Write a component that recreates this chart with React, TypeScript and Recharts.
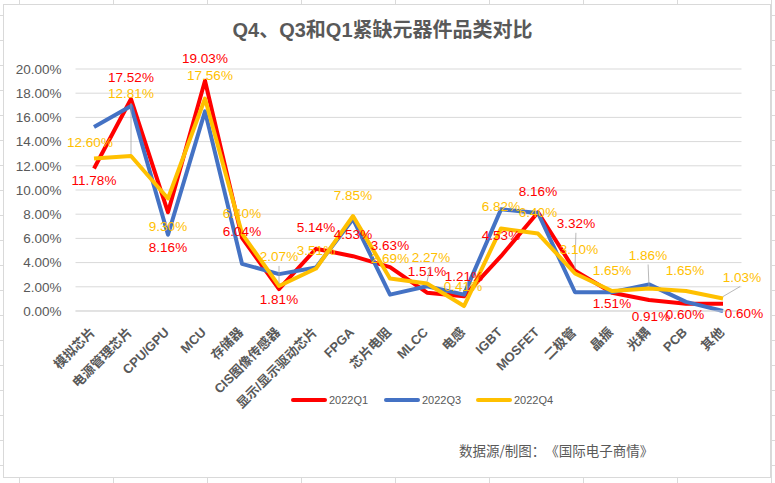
import React from "react";
import {
  LineChart,
  Line,
  XAxis,
  YAxis,
  CartesianGrid,
  LabelList,
} from "recharts";

const categories = [
  "模拟芯片",
  "电源管理芯片",
  "CPU/GPU",
  "MCU",
  "存储器",
  "CIS图像传感器",
  "显示/显示驱动芯片",
  "FPGA",
  "芯片电阻",
  "MLCC",
  "电感",
  "IGBT",
  "MOSFET",
  "二极管",
  "晶振",
  "光耦",
  "PCB",
  "其他",
];

// percent values
const q1Values = [
  11.78, 17.52, 8.16, 19.03, 6.04, 1.81, 5.14, 4.53, 3.63, 1.51, 1.21, 4.53,
  8.16, 3.32, 1.51, 0.91, 0.6, 0.6,
];
const q3Values = [
  15.2, 16.95, 6.3, 16.5, 3.9, 3.05, 3.6, 7.6, 1.35, 2.05, 1.35, 8.4, 8.1,
  1.55, 1.55, 2.2, 0.75, 0.0,
];
const q4Values = [
  12.6, 12.81, 9.3, 17.56, 6.4, 2.07, 3.51, 7.85, 2.69, 2.27, 0.41, 6.82, 6.4,
  3.1, 1.65, 1.86, 1.65, 1.03,
];

const yTicks = [0, 2, 4, 6, 8, 10, 12, 14, 16, 18, 20];

const seriesNames = ["2022Q1", "2022Q3", "2022Q4"];
const sourceNote = "数据源/制图：《国际电子商情》";
const title = "Q4、Q3和Q1紧缺元器件品类对比";

// label placement relative to each point (dx, dy), hand-placed like the original
const q1LabelOffsets = [
  [0, 12], [0, -22], [0, 35], [0, -22], [0, -6], [0, 10], [0, -21.5],
  [0, -22], [0, -22], [0, -21], [0, -20], [0, -21], [0, -21], [1, -47],
  [0, 11], [2, 17], [-1, 11], [21, 10],
];
const q4LabelOffsets = [
  [-4, -16], [0, -62], [0, 28], [5, -23], [0, -20], [0, -29], [0, -18.5],
  [0, -21], [0, -20], [4, -26], [-1, -20], [0, -22], [0, -21], [4, -24],
  [0, -21], [-1, -33], [-1, -21], [19, -21],
];
const q1Leaders = [13];
const q4Leaders = [1, 5, 9, 15, 17];

const data = categories.map((name, i) => ({
  name,
  q1: q1Values[i],
  q3: q3Values[i],
  q4: q4Values[i],
}));

const RED = "#FF0000";
const BLUE = "#4472C4";
const YELLOW = "#FFC000";
const GRAY_TEXT = "#595959";
const FONT = "'Liberation Sans', 'Noto Sans CJK SC', sans-serif";

const makeLabel =
  (color: string, offsets: number[][], leaders: number[]) => (props: any) => {
    const { x, y, value, index } = props;
    const [dx, dy] = offsets[index] || [0, -20];
    const lx = x + dx;
    const ly = y + dy;
    return (
      <g>
        {leaders.includes(index) && (
          <line
            x1={x}
            y1={y - 2}
            x2={x + dx * 0.9}
            y2={ly + (dy < 0 ? 9 : -9)}
            stroke="#a6a6a6"
            strokeWidth={0.8}
          />
        )}
        <text
          x={lx}
          y={ly}
          fill={color}
          fontSize={13.5}
          fontFamily={FONT}
          textAnchor="middle"
          dominantBaseline="central"
        >
          {Number(value).toFixed(2)}%
        </text>
      </g>
    );
  };

const CategoryTick = (props: any) => {
  const { x, y, payload } = props;
  return (
    <text
      transform={`translate(${x + 2},${y + 14}) rotate(-45)`}
      textAnchor="end"
      fill={GRAY_TEXT}
      fontSize={13}
      fontWeight="bold"
      fontFamily="'Liberation Sans Narrow', 'Liberation Sans', 'Noto Sans CJK SC', sans-serif"
    >
      {payload.value}
    </text>
  );
};

export default function App() {
  const legendItems = [
    { name: seriesNames[0], color: RED, left: 291 },
    { name: seriesNames[1], color: BLUE, left: 384 },
    { name: seriesNames[2], color: YELLOW, left: 476 },
  ];

  return (
    <div
      style={{
        position: "fixed",
        left: 0,
        top: 0,
        width: 775,
        height: 483,
        overflow: "hidden",
        background: "#fff",
        backgroundImage:
          "linear-gradient(to right, #dadada 1px, transparent 1px), linear-gradient(to bottom, #dadada 1px, transparent 1px)",
        backgroundSize: "94px 100%, 100% 25px",
        backgroundPosition: "19px 0, 0 15px",
        textSpacingTrim: "space-all",
      } as React.CSSProperties}
    >
      {/* chart frame */}
      <div
        style={{
          position: "absolute",
          left: 3,
          top: 4,
          width: 766,
          height: 472,
          border: "1px solid #d9d9d9",
          background: "#fff",
        }}
      />

      <div
        style={{
          position: "absolute",
          left: 0,
          top: 19,
          width: 765,
          textAlign: "center",
          fontFamily: FONT,
          fontWeight: "bold",
          fontSize: 20,
          color: GRAY_TEXT,
          lineHeight: "22px",
        }}
      >
        {title}
      </div>

      <div style={{ position: "absolute", left: 0, top: 0 }}>
        <LineChart
          width={775}
          height={483}
          data={data}
          margin={{ top: 69, right: 33.5, bottom: 72, left: 15 }}
        >
          <CartesianGrid vertical={false} stroke="#d9d9d9" strokeWidth={1} />
          <XAxis
            dataKey="name"
            interval={0}
            height={100}
            padding={{ left: 18.5, right: 18.5 }}
            axisLine={{ stroke: "#d9d9d9" }}
            tickLine={false}
            tick={<CategoryTick />}
          />
          <YAxis
            width={60.5}
            domain={[0, 20]}
            ticks={yTicks}
            axisLine={false}
            tickLine={false}
            tickMargin={8}
            tickFormatter={(v: number) => `${v.toFixed(2)}%`}
            tick={{ fill: GRAY_TEXT, fontSize: 13.5, fontFamily: FONT }}
          />
          <Line
            type="linear"
            dataKey="q1"
            name={seriesNames[0]}
            stroke={RED}
            strokeWidth={4}
            strokeLinejoin="round"
            dot={false}
            activeDot={false}
            isAnimationActive={false}
          >
            <LabelList
              dataKey="q1"
              content={makeLabel(RED, q1LabelOffsets, q1Leaders)}
            />
          </Line>
          <Line
            type="linear"
            dataKey="q3"
            name={seriesNames[1]}
            stroke={BLUE}
            strokeWidth={4}
            strokeLinejoin="round"
            dot={false}
            activeDot={false}
            isAnimationActive={false}
          />
          <Line
            type="linear"
            dataKey="q4"
            name={seriesNames[2]}
            stroke={YELLOW}
            strokeWidth={4}
            strokeLinejoin="round"
            dot={false}
            activeDot={false}
            isAnimationActive={false}
          >
            <LabelList
              dataKey="q4"
              content={makeLabel(YELLOW, q4LabelOffsets, q4Leaders)}
            />
          </Line>
        </LineChart>
      </div>

      {/* legend */}
      {legendItems.map((item) => (
        <div
          key={item.name}
          style={{
            position: "absolute",
            left: item.left,
            top: 392,
            height: 16,
            display: "flex",
            alignItems: "center",
            fontFamily: FONT,
            fontSize: 11,
            color: GRAY_TEXT,
          }}
        >
          <span
            style={{
              display: "inline-block",
              width: 36,
              height: 4,
              borderRadius: 2,
              background: item.color,
              marginRight: 2,
            }}
          />
          {item.name}
        </div>
      ))}

      <div
        style={{
          position: "absolute",
          left: 459,
          top: 441,
          fontFamily: "'Noto Sans CJK SC', sans-serif",
          fontSize: 13.5,
          color: GRAY_TEXT,
          lineHeight: "18px",
          whiteSpace: "nowrap",
          textSpacingTrim: "space-all",
        } as React.CSSProperties}
      >
        {sourceNote}
      </div>
    </div>
  );
}
